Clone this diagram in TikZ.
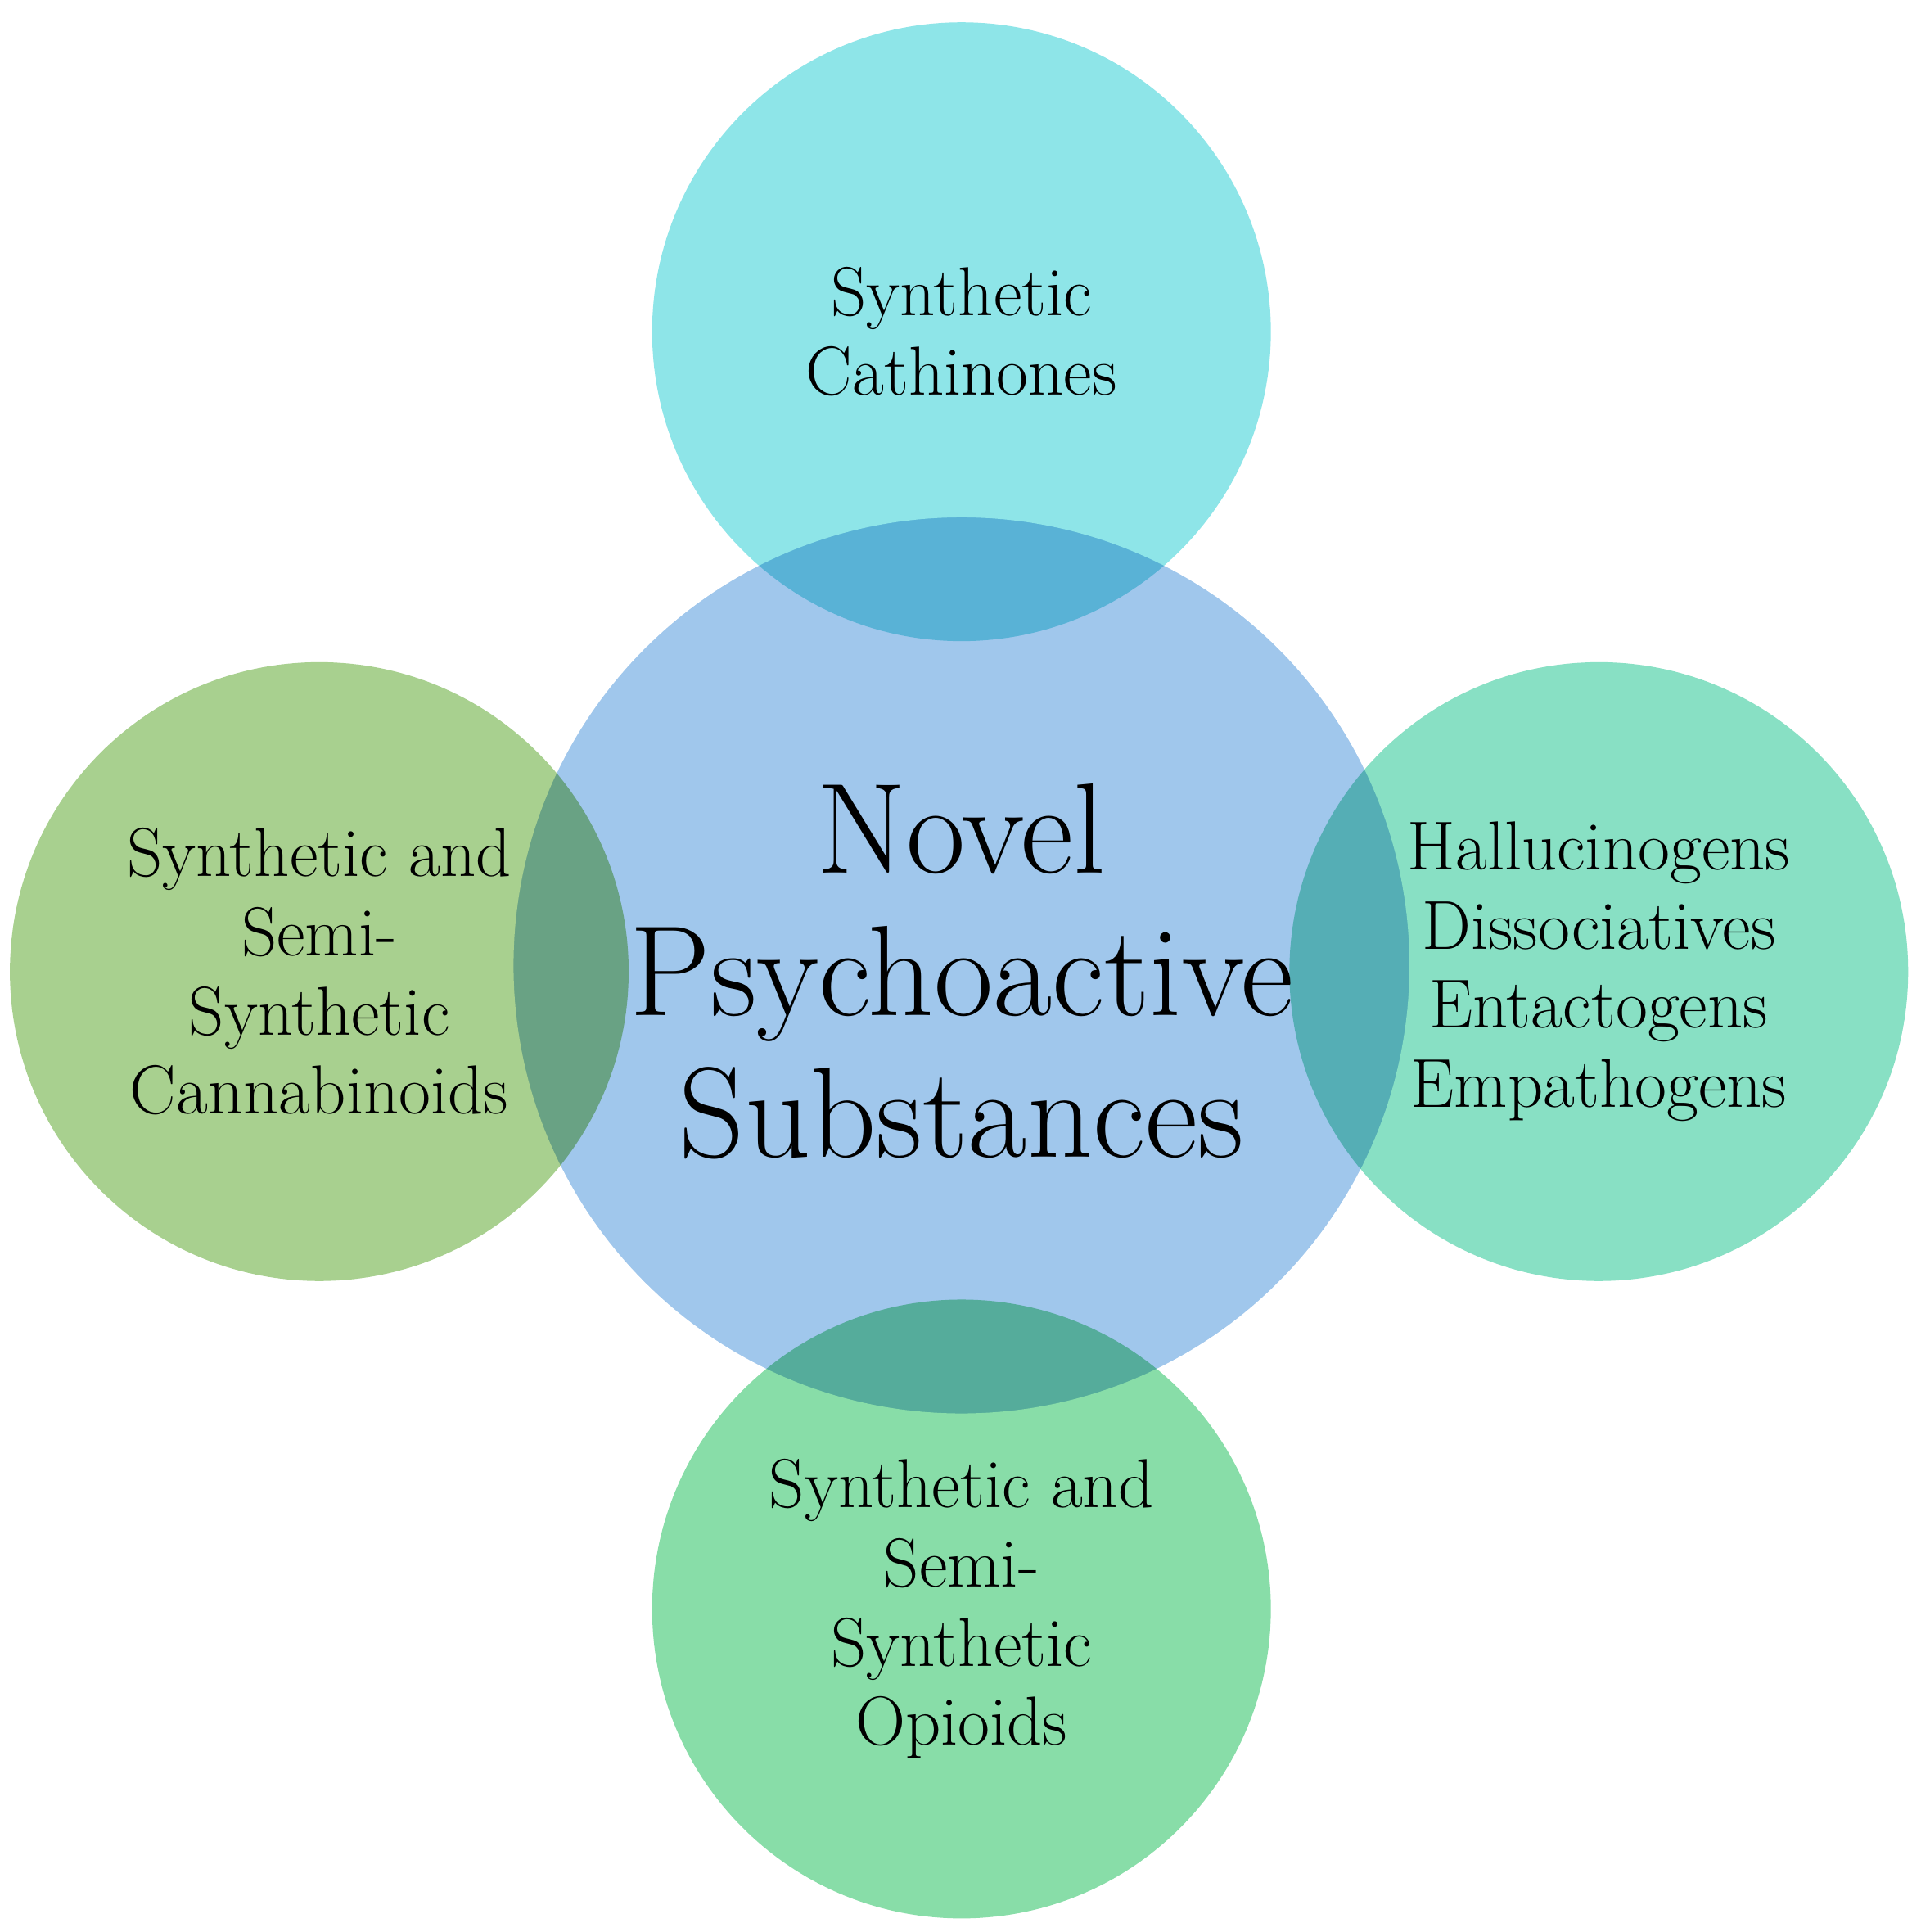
\documentclass[tikz,border=0pt]{standalone}
\begin{document}
\begin{tikzpicture}[x=1pt,y=-1pt,
  sat/.style={circle,minimum size=500pt,draw=white,line width=2pt,blend mode=multiply,inner sep=0pt},
  lbl/.style={align=center,font=\fontsize{56}{64}\selectfont}]
\useasboundingbox (0,0) rectangle (1552,1561);
\node[circle,minimum size=726pt,fill={rgb,255:red,160;green,199;blue,236},draw=white,line width=2pt] (c) at (777,780) {};
\node[sat,fill={rgb,255:red,142;green,229;blue,232}] (t) at (777,268) {};
\node[sat,fill={rgb,255:red,168;green,208;blue,143}] (l) at (258,785) {};
\node[sat,fill={rgb,255:red,136;green,224;blue,196}] (r) at (1292,785) {};
\node[sat,fill={rgb,255:red,136;green,221;blue,168}] (b) at (777,1300) {};
\node[align=center,font=\fontsize{104}{115}\selectfont] (ct) at (777,785) {Novel\\Psychoactive\\Substances};
\node[lbl] (tt) at (777,268) {Synthetic\\Cathinones};
\node[lbl] (lt) at (258,785) {Synthetic and\\Semi-\\Synthetic\\Cannabinoids};
\node[lbl] (rt) at (1292,785) {Hallucinogens\\Dissociatives\\Entactogens\\Empathogens};
\node[lbl] (bt) at (777,1300) {Synthetic and\\Semi-\\Synthetic\\Opioids};
\end{tikzpicture}
\end{document}
